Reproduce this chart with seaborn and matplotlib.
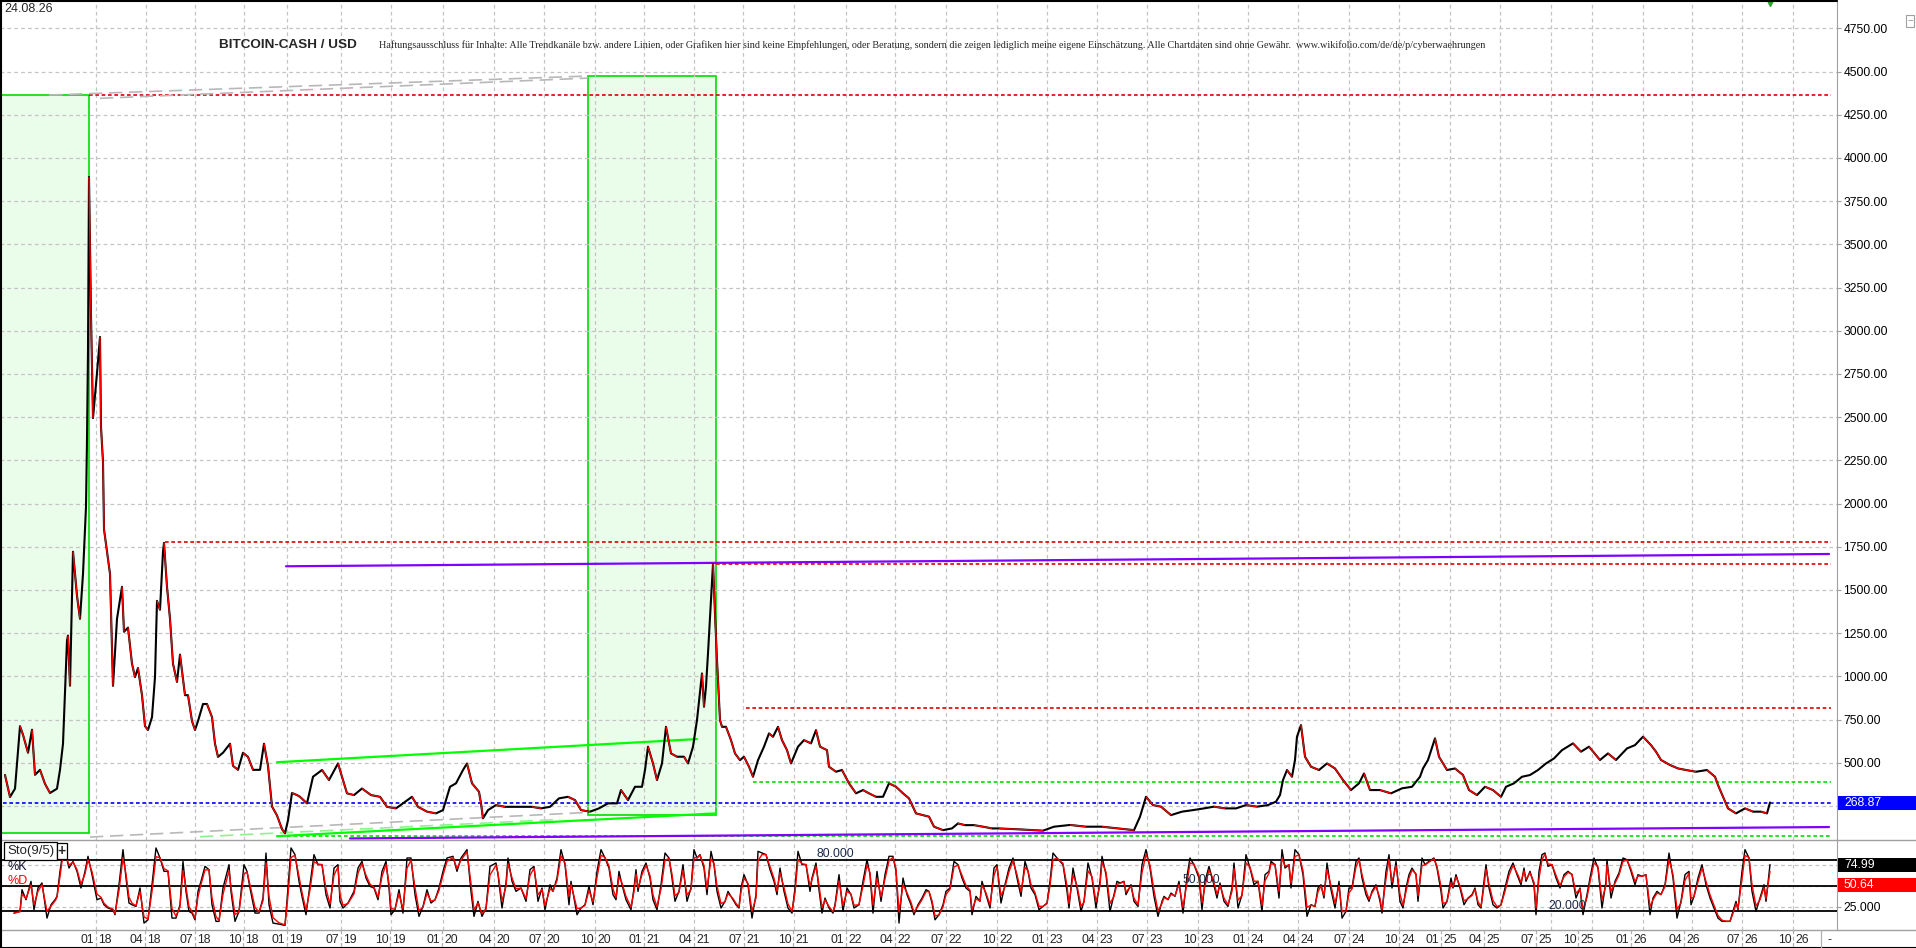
import numpy as np
import pandas as pd
import matplotlib
matplotlib.use("Agg")
import matplotlib.pyplot as plt
import seaborn as sns
from matplotlib.patches import Rectangle
from matplotlib.collections import LineCollection
from matplotlib.lines import Line2D
from matplotlib.transforms import IdentityTransform

# Kurs (Schlusswerte) je Balkenposition
price_bar = [5, 10, 15, 20, 23, 28, 32, 35, 40, 45, 50, 57, 60, 63, 67, 68, 70, 73, 77, 80,
             83, 86, 87, 88, 89, 91, 93, 97, 100, 101, 103, 104, 107, 110, 113, 117, 122, 124, 128, 132,
             135, 138, 142, 145, 148, 152, 155, 157, 160, 163, 164, 167, 170, 173, 177, 180, 185, 188, 192, 195,
             198, 203, 207, 212, 215, 218, 223, 230, 233, 238, 243, 248, 253, 260, 264, 268, 272, 277, 282, 285,
             288, 292, 297,
             300, 307, 313, 322, 329, 338, 342, 347, 354, 362, 371, 380, 387, 396, 405, 412, 418, 427, 436, 443,
             450, 456, 463, 467, 472, 479, 481, 483, 488, 496, 505, 514, 523, 532, 541, 550, 559, 568, 575, 581,
             590, 599, 608, 617, 621, 628, 635, 642, 645, 648, 653, 657, 662, 666, 671, 677, 684, 688, 693, 697,
             702, 704, 706, 708, 711, 713, 715, 717, 720, 722, 726, 731, 735, 740, 744, 749, 753, 758, 764, 769,
             773, 778, 782, 787, 791, 798, 804, 811, 816, 820, 827, 829, 836, 842, 849, 856, 863, 869, 876, 883,
             889, 896, 903, 909, 916, 923, 929, 934, 943, 952, 958, 965, 974, 983, 992, 999,
             1021, 1043, 1054, 1070, 1086, 1102, 1118, 1134, 1140, 1146, 1153, 1161, 1171, 1182, 1193, 1204,
             1214, 1225, 1236, 1246, 1257, 1268, 1276, 1280, 1283, 1287, 1292, 1295, 1297, 1301, 1305, 1311,
             1319, 1327, 1335, 1343, 1351, 1359, 1364, 1370, 1380, 1391, 1402, 1412, 1420, 1423, 1428, 1435,
             1439, 1447, 1455, 1463, 1469, 1477, 1485, 1493, 1501, 1506, 1514, 1522, 1530, 1538, 1546, 1554,
             1562, 1573, 1581, 1589, 1600, 1608, 1616, 1627, 1635, 1643, 1651, 1656, 1661, 1670, 1678, 1686,
             1696, 1707, 1715, 1718, 1723, 1728, 1736, 1745, 1753, 1761, 1767, 1770]
price_close = [429, 302, 350, 712, 662, 558, 691, 430, 459, 378, 325, 350, 459, 610, 1207, 1236, 946, 1721, 1466, 1333,
               1593, 1980, 2370, 2885, 3890, 3090, 2495, 2755, 2964, 2444, 2240, 1852, 1721, 1593, 945, 1333, 1518, 1258, 1282, 1073,
               996, 1048, 891, 712, 690, 764, 996, 1437, 1385, 1721, 1772, 1518, 1333, 1073, 968, 1126, 891, 891, 741, 690,
               741, 840, 840, 764, 610, 534, 558, 610, 482, 459, 558, 534, 459, 459, 610, 482, 247, 195, 116, 92,
               167, 325, 313,
               303, 265, 419, 458, 400, 496, 419, 323, 313, 351, 313, 303, 245, 236, 274, 303, 245, 217, 207, 226,
               361, 381, 458, 496, 381, 332, 265, 178, 226, 255, 245, 245, 245, 245, 236, 245, 294, 303, 284, 226,
               217, 236, 265, 265, 342, 284, 361, 361, 458, 593, 496, 400, 496, 708, 554, 535, 535, 496, 593, 747,
               1017, 824, 940, 1133, 1442, 1650, 1364, 1094, 747, 708, 708, 631, 554, 515, 535, 477, 419, 515, 593, 670,
               650, 708, 631, 573, 496, 593, 631, 612, 689, 593, 573, 477, 448, 458, 381, 323, 342, 323, 303, 303,
               381, 361, 323, 294, 207, 197, 188, 130, 110, 120, 149, 139, 139, 130, 120, 120,
               114, 107, 130, 140, 130, 130, 120, 110, 188, 303, 255, 246, 197, 217, 226, 236,
               246, 236, 236, 255, 246, 255, 275, 313, 400, 458, 419, 516, 651, 718, 535, 477,
               458, 496, 467, 400, 342, 381, 438, 342, 342, 323, 352, 361, 419, 467, 516, 641,
               535, 458, 467, 429, 342, 313, 361, 342, 303, 361, 381, 419, 429, 458, 496, 525,
               573, 612, 564, 593, 516, 554, 516, 583, 602, 651, 602, 564, 516, 487, 467, 458,
               448, 458, 419, 371, 303, 236, 207, 236, 217, 217, 207, 270]

# Stochastik %K
stoch_bar = [14, 20, 22, 26, 31, 34, 38, 42, 47, 51, 55, 57, 60, 62, 65, 69, 73, 77, 81, 85,
             88, 92, 97, 101, 104, 108, 113, 115, 119, 123, 126, 129, 132, 136, 140, 144, 148, 152, 156, 160,
             164, 168, 172, 176, 180, 183, 186, 189, 192, 195, 198, 201, 205, 209, 212, 216, 219, 223, 229, 231,
             235, 239, 244, 247, 250, 255, 259, 263, 266, 269, 273, 279, 285, 288, 291, 295, 299, 302, 306, 310,
             314, 318, 322, 326, 330, 334, 338, 340, 343, 348, 354, 358, 362, 366, 370, 374, 378, 382, 386, 389,
             391, 395, 399, 403, 407, 411, 415, 419, 423, 427, 431, 435, 439, 443, 447, 453, 457, 461, 467, 471,
             474, 478, 482, 486, 490, 496, 498, 502, 506, 508, 512, 516, 521, 526, 530, 534, 538, 542, 545, 550,
             553, 557, 561, 565, 569, 571, 577, 581, 585, 589, 593, 597, 601, 605, 609,
             613, 616, 619, 622, 626, 631, 634, 636, 638, 642, 646, 650, 653, 657, 661, 665, 669, 672, 675, 679,
             683, 687, 691, 694, 697, 700, 704, 707, 711, 714, 717, 721, 725, 728, 733, 736, 739, 741, 744, 748,
             752, 756, 758, 762, 766, 770, 774, 777, 780, 784, 788, 792, 795, 798, 802, 806, 810, 812, 816, 819,
             822, 825, 829, 833, 835, 839, 843, 847, 851, 854, 859, 863, 867, 870, 873, 877, 881, 885, 889, 893,
             896, 899, 903, 907, 911, 914, 918, 922, 926, 929, 932, 935, 939, 943, 946, 950, 954, 958, 962, 966,
             970, 972, 976, 980, 982, 986, 990, 994, 997, 1001, 1005, 1009, 1013, 1017, 1021, 1025, 1028, 1031, 1035, 1039,
             1043, 1047, 1050, 1053, 1057, 1063, 1067, 1069, 1073, 1077, 1081, 1084, 1088, 1092, 1096, 1100, 1102, 1106, 1110, 1114,
             1117, 1120, 1124, 1126, 1131, 1134, 1138, 1142, 1146, 1150, 1154, 1158, 1162, 1164, 1168, 1171, 1175, 1179, 1183, 1187,
             1190, 1194, 1199, 1202, 1205, 1209, 1213, 1217,
             1220, 1224, 1228, 1232, 1234, 1238, 1242, 1246, 1250, 1254, 1258, 1262, 1265, 1269, 1271, 1275, 1279, 1282, 1285, 1289,
             1291, 1295, 1299, 1303, 1307, 1311, 1315, 1318, 1321, 1324, 1327, 1331, 1335, 1339, 1342, 1346, 1349, 1352, 1356, 1359,
             1362, 1366, 1369, 1372, 1376, 1380, 1382, 1386, 1389, 1392, 1396, 1400, 1403, 1406, 1409, 1412, 1416, 1418, 1422, 1425,
             1429, 1434, 1437, 1441, 1443, 1447, 1451, 1453, 1456, 1460, 1464, 1468, 1472, 1475, 1478, 1481, 1484, 1486, 1489, 1493,
             1497, 1501, 1505, 1509, 1513, 1517, 1521, 1524, 1526, 1530, 1534, 1536, 1539, 1542, 1545, 1548, 1552, 1556, 1560, 1564,
             1568, 1572, 1576, 1580, 1583, 1587, 1590, 1594, 1598, 1602, 1606, 1607, 1611, 1615, 1619, 1623, 1627, 1631, 1635, 1638,
             1642, 1646, 1650, 1653, 1657, 1661, 1665, 1669, 1673, 1677, 1681, 1685, 1689, 1691, 1694, 1698, 1702, 1706, 1710, 1714,
             1718, 1722, 1726, 1730, 1733, 1736, 1738, 1742, 1745, 1749, 1752, 1756, 1760, 1764, 1766, 1770]
stoch_k = [17.5, 19.5, 45.2, 33.3, 55.1, 21.5, 47.2, 53.1, 11.6, 27.4, 33.3, 37.3, 66.9, 82.7, 90.6, 70.8, 78.7, 66.9, 47.2, 66.9,
           84.7, 63, 33.3, 35.3, 27.4, 23.5, 21.5, 15.6, 51.1, 92.6, 59, 29.4, 27.4, 25.4, 47.2, 5.7, 9.6, 51.1, 94.6, 82.7,
           66.9, 66.9, 11.6, 11.6, 27.4, 78.7, 43.2, 19.5, 17.5, 9.6, 43.2, 55.1, 72.8, 68.9, 27.4, 7.7, 7.7, 47.2, 74.8, 43.2,
           7.7, 19.5, 74.8, 66.9, 47.2, 17.5, 17.5, 35.3, 88.6, 27.4, 5.7, 4.5, 2.9, 47.2, 94.6, 86.7, 55.1, 37.3, 15.6, 51.1,
           86.7, 74.8, 74.8, 39.3, 23.5, 70.8, 74.8, 31.4, 23.5, 29.4, 43.2, 70.8, 78.7, 59, 49.1, 47.2, 33.3, 66.9, 78.7, 47.2,
           15.6, 21.5, 45.2, 17.5, 82.7, 82.7, 39.3, 13.6, 25.4, 45.2, 29.4, 33.3, 47.2, 66.9, 82.7, 84.7, 66.9, 82.7, 92.6, 43.2,
           13.6, 31.4, 13.6, 23.5, 72.8, 76.8, 63, 23.5, 53.1, 82.7, 55.1, 43.2, 47.2, 31.4, 68.9, 72.8, 31.4, 47.2, 21.5, 51.1,
           43.2, 59, 92.6, 74.8, 27.4, 55.1, 15.6, 23.5, 27.4, 49.1, 27.4, 66.9, 92.6, 82.7, 70.8,
           39.3, 33.3, 66.9, 51.1, 33.3, 21.5, 47.2, 68.9, 43.2, 66.9, 76.8, 59, 33.3, 21.5, 51.1, 88.6, 82.7, 59, 31.4, 43.2,
           74.8, 31.4, 47.2, 92.6, 82.7, 86.7, 70.8, 39.3, 90.6, 74.8, 43.2, 23.5, 31.4, 43.2, 33.3, 27.4, 23.5, 47.2, 63, 51.1,
           11.6, 39.3, 90.6, 88.6, 86.7, 68.9, 55.1, 39.3, 70.8, 43.2, 23.5, 17.5, 47.2, 90.6, 74.8, 74.8, 43.2, 59, 76.8, 45.2,
           17.5, 35.3, 23.5, 17.5, 27.4, 63, 19.5, 47.2, 39.3, 23.5, 27.4, 55.1, 80.7, 63, 17.5, 66.9, 31.4, 63, 84.7, 84.7,
           66.9, 5.7, 59, 39.3, 27.4, 15.6, 27.4, 35.3, 45.2, 43.2, 29.4, 9.6, 15.6, 27.4, 43.2, 47.2, 78.7, 74.8, 59, 47.2,
           43.2, 15.6, 37.3, 31.4, 55.1, 39.3, 23.5, 70.8, 74.8, 29.4, 51.1, 70.8, 82.7, 59, 37.3, 78.7, 66.9, 47.2, 39.3, 21.5,
           25.4, 29.4, 55.1, 88.6, 82.7, 74.8, 43.2, 23.5, 70.8, 47.2, 19.5, 31.4, 76.8, 59, 23.5, 55.1, 84.7, 63, 19.5, 39.3,
           55.1, 53.1, 55.1, 39.3, 51.1, 31.4, 25.4, 74.8, 92.6, 70.8, 37.3, 13.6, 31.4, 37.3, 33.3, 41.2, 37.3, 55.1, 17.5, 61,
           82.7, 74.8, 59, 21.5, 55.1, 72.8, 55.1, 35.3,
           53.1, 31.4, 25.4, 47.2, 76.8, 23.5, 39.3, 86.7, 70.8, 51.1, 55.1, 19.5, 63, 66.9, 78.7, 74.8, 35.3, 92.6, 70.8, 74.8,
           47.2, 92.6, 86.7, 63, 13.6, 27.4, 25.4, 47.2, 51.1, 35.3, 76.8, 45.2, 23.5, 55.1, 11.6, 19.5, 47.2, 47.2, 78.7, 82.7,
           59, 39.3, 31.4, 43.2, 51.1, 31.4, 17.5, 66.9, 86.7, 47.2, 78.7, 31.4, 23.5, 47.2, 63, 70.8, 63, 31.4, 82.7, 74.8,
           78.7, 82.7, 70.8, 43.2, 23.5, 31.4, 59, 47.2, 63, 47.2, 27.4, 35.3, 39.3, 47.2, 27.4, 23.5, 55.1, 74.8, 47.2, 27.4,
           23.5, 27.4, 47.2, 66.9, 76.8, 63, 51.1, 70.8, 55.1, 66.9, 51.1, 15.6, 66.9, 86.7, 88.6, 72.8, 74.8, 59, 47.2, 63,
           66.9, 63, 35.3, 47.2, 15.6, 39.3, 59, 82.7, 70.8, 23.5, 55.1, 80.7, 35.3, 55.1, 65, 82.7, 80.7, 66.9, 51.1, 63,
           61, 63, 15.6, 35.3, 43.2, 39.3, 51.1, 88.6, 59, 11.6, 31.4, 63, 66.9, 27.4, 37.3, 59, 74.8, 51.1, 35.3, 23.5,
           11.6, 7.7, 7.7, 7.7, 19.5, 31.4, 21.5, 66.9, 92.6, 82.7, 43.2, 19.5, 35.3, 51.1, 31.4, 74.99]

price_ticks = list(range(250, 5000, 250))
stoch_ticks = [25, 50, 75]
stoch_levels = [20, 50, 80]

grid_bar = [96, 146, 195, 244, 287, 341, 391, 443, 494, 544, 595, 644, 694, 743, 794, 846, 895, 946,
            997, 1047, 1097, 1147, 1198, 1248, 1298, 1349, 1399, 1450, 1500, 1551, 1592, 1643, 1692, 1742, 1793]
date_bar = [96, 145, 195, 243, 287, 341, 390, 442, 494, 544, 595, 644, 694, 744, 793, 846, 895, 946,
            997, 1047, 1097, 1147, 1198, 1248, 1298, 1349, 1399, 1441, 1484, 1536, 1578, 1631, 1684, 1742, 1793]
date_labels = ["01 18", "04 18", "07 18", "10 18", "01 19", "07 19", "10 19", "01 20", "04 20", "07 20",
               "10 20", "01 21", "04 21", "07 21", "10 21", "01 22", "04 22", "07 22", "10 22", "01 23",
               "04 23", "07 23", "10 23", "01 24", "04 24", "07 24", "10 24", "01 25", "04 25", "07 25",
               "10 25", "01 26", "04 26", "07 26", "10 26"]

# Zeichnungen im Chart
red_levels = [4364, 1780, 1650, 815]
red_start = [89, 165, 716, 746]
green_levels = [387, 76]
green_start = [753, 287]
last_price = 268.87
last_k, last_d = 74.99, 50.64
zones = [(0, 89, 93, 4364), (588, 716, 197, 4474)]
purple_lines = [((286, 1637), (1829, 1708)), ((350, 62), (1829, 128))]
channel_lines = [((277, 503), (697, 637)), ((277, 75), (716, 207))]
grey_lines = [((49, 4364), (588, 4474)), ((100, 4345), (588, 4462)), ((90, 70), (586, 212))]
light_green_lines = [((200, 72), (560, 172))]

title = "BITCOIN-CASH / USD"
disclaimer = ("Haftungsausschluss für Inhalte: Alle Trendkanäle bzw. andere Linien, oder Grafiken hier sind keine "
              "Empfehlungen, oder Beratung, sondern die zeigen lediglich meine eigene Einschätzung. Alle Chartdaten "
              "sind ohne Gewähr.  www.wikifolio.com/de/de/p/cyberwaehrungen")
date_text = "24.08.26"

# Layout (Pixel)
W, H = 1916, 948
X_AXIS = 1837
P_BOT, S_BOT = 840, 930
LINE_END = 1831


def fx(px):
    return px / W


def fy(py):
    return 1 - py / H


sns.set_style("white")
plt.rcParams['font.family'] = ['Liberation Sans', 'DejaVu Sans']
plt.rcParams['font.size'] = 8.7

fig = plt.figure(figsize=(W / 100, H / 100), dpi=100)
ax = fig.add_axes([0, fy(P_BOT), fx(X_AXIS), P_BOT / H])
ax2 = fig.add_axes([0, fy(S_BOT), fx(X_AXIS), (S_BOT - P_BOT) / H])

price_df = pd.DataFrame({'bar': price_bar, 'close': price_close})
stoch_df = pd.DataFrame({'bar': stoch_bar, 'k': stoch_k})
stoch_df['d'] = stoch_df['k'].ewm(alpha=0.8).mean()

# Kurslinie: schwarz, fallende Abschnitte rot
sns.lineplot(data=price_df, x='bar', y='close', ax=ax, color='black', linewidth=1.5,
             estimator=None, sort=False, zorder=4)
xs = price_df['bar'].to_numpy()
ys = price_df['close'].to_numpy()
down = np.where(ys[1:] < ys[:-1])[0]
segs = [[(xs[i], ys[i]), (xs[i + 1], ys[i + 1])] for i in down]
ax.add_collection(LineCollection(segs, colors='#ff0000', linewidths=1.0, zorder=5))

# Zonen und Linien
for x0, x1, y0, y1 in zones:
    ax.add_patch(Rectangle((x0, y0), x1 - x0, y1 - y0, facecolor='#eafcea', edgecolor='#00dd00',
                           linewidth=1.2, zorder=0.3))
ax.hlines(red_levels, red_start, LINE_END, colors='#e00000', linestyles=(0, (2.2, 1.6)), linewidth=1.2, zorder=3)
ax.hlines(green_levels, green_start, LINE_END, colors='#00e000', linestyles=(0, (2.2, 1.6)), linewidth=1.2, zorder=3)
ax.hlines([last_price], 3, LINE_END, colors='#0000ff', linestyles=(0, (2.2, 1.6)), linewidth=1.2, zorder=3)
for (x0, y0), (x1, y1) in purple_lines:
    ax.plot([x0, x1], [y0, y1], color='#8000ff', linewidth=1.6, zorder=3)
for (x0, y0), (x1, y1) in channel_lines:
    ax.plot([x0, x1], [y0, y1], color='#00ff00', linewidth=1.6, zorder=3)
for (x0, y0), (x1, y1) in grey_lines:
    ax.plot([x0, x1], [y0, y1], color='#b8b8b8', linewidth=1.2, linestyle=(0, (8, 4)), zorder=3)
for (x0, y0), (x1, y1) in light_green_lines:
    ax.plot([x0, x1], [y0, y1], color='#90f090', linewidth=1.2, linestyle=(0, (8, 4)), zorder=3)
ax.plot([1770], [4900], marker='v', color='#22aa22', markersize=6, clip_on=False, zorder=6)

# Stochastik
sns.lineplot(data=stoch_df, x='bar', y='k', ax=ax2, color='black', linewidth=1.0,
             estimator=None, sort=False, zorder=4)
sns.lineplot(data=stoch_df, x='bar', y='d', ax=ax2, color='#ff0000', linewidth=1.0,
             estimator=None, sort=False, zorder=5)
for lv in stoch_levels:
    ax2.axhline(lv, color='black', linewidth=1.3, zorder=3)

grid_kw = dict(color='#c4c4c4', linestyle=(0, (3, 2.5)), linewidth=0.9)
for a in (ax, ax2):
    a.set_xlim(0, X_AXIS)
    a.set_xticks(grid_bar)
    a.tick_params(axis='x', length=0, labelbottom=False)
    a.yaxis.tick_right()
    a.tick_params(axis='y', right=True, left=False, length=3, width=0.8, color='#a0a0a0',
                  labelsize=8.7, pad=1.5, labelcolor='black')
    a.grid(True, **grid_kw)
    a.set_axisbelow(True)
    a.set_xlabel('')
    a.set_ylabel('')
    for s in ('top', 'bottom'):
        a.spines[s].set_visible(False)
    a.spines['right'].set_color('#a0a0a0')
    a.spines['left'].set_color('black')
    a.spines['left'].set_linewidth(1.5)
    a.set_facecolor('white')

# Beschriftungen, die unter den Wertboxen liegen, bleiben leer
ax.set_ylim(53, 4914)
ax.set_yticks(price_ticks)
ax.set_yticklabels(["" if abs(v - last_price) < 60 else f"{v:.2f}" for v in price_ticks])
ax2.set_ylim(-2.5, 104)
ax2.set_yticks(stoch_ticks)
ax2.set_yticklabels(["" if min(abs(v - last_k), abs(v - last_d)) < 5 else f"{v:.3f}" for v in stoch_ticks])

lab_col = '#1a2a48'
ax2.text(835, 87.5, "80.000", ha='center', va='center', color=lab_col, fontsize=8.7, zorder=6)
ax2.text(1201, 56.7, "50.000", ha='center', va='center', color=lab_col, fontsize=8.7, zorder=6)
ax2.text(1567, 26, "20.000", ha='center', va='center', color=lab_col, fontsize=8.7, zorder=6)

# Rahmen und Trennlinien
ident = IdentityTransform()
fig.add_artist(Line2D([0, 1], [fy(P_BOT), fy(P_BOT)], color='#a0a0a0', linewidth=1.0))
fig.add_artist(Line2D([0, 1], [fy(S_BOT), fy(S_BOT)], color='#a0a0a0', linewidth=1.0))
fig.add_artist(Line2D([0, fx(X_AXIS)], [fy(0.5), fy(0.5)], color='black', linewidth=1.5))
fig.add_artist(Line2D([0, 1], [fy(947.5), fy(947.5)], color='black', linewidth=1.5))
fig.add_artist(Line2D([fx(0.7), fx(0.7)], [0, 1], color='black', linewidth=1.5))

# Datumsleiste
for b, lab in zip(date_bar, date_labels):
    m, yr = lab.split()
    fig.add_artist(Line2D([fx(b), fx(b)], [fy(S_BOT), fy(H)], color='#b0b0b0', linewidth=0.9,
                          linestyle=(0, (3, 2))))
    fig.text(fx(b - 1.5), fy(940), m, ha='right', va='center', fontsize=8.7)
    fig.text(fx(b + 2), fy(940), yr, ha='left', va='center', fontsize=8.7)
fig.add_artist(Line2D([fx(1821), fx(1821)], [fy(S_BOT), fy(H)], color='#b0b0b0', linewidth=0.9))
fig.text(fx(1830), fy(940), "-", ha='center', va='center', fontsize=8.7)

# Wertboxen an der rechten Achse


def value_box(a, v, text, fc):
    y = a.transData.transform((0, v))[1]
    fig.add_artist(Rectangle((X_AXIS + 1, y - 7), W - X_AXIS - 1, 14, transform=ident,
                             facecolor=fc, edgecolor='none', zorder=5))
    fig.text(X_AXIS + 7, y, text, transform=ident, ha='left', va='center', color='white',
             fontsize=8.7, zorder=6)


value_box(ax, last_price, f"{last_price:.2f}", '#0000ff')
value_box(ax2, last_k, f"{last_k:.2f}", '#000000')
value_box(ax2, last_d, f"{last_d:.2f}", '#ff0000')

# Texte
fig.text(fx(4), fy(9), date_text, ha='left', va='center', fontsize=9)
fig.text(fx(288), fy(45), title, ha='center', va='center', fontsize=9.7, fontweight='bold')
t = fig.text(fx(379), fy(45), disclaimer, ha='left', va='center', fontsize=8,
             family=['Liberation Serif', 'DejaVu Serif'])
r = fig.canvas.get_renderer()
t.set_fontsize(8 * 1104 / t.get_window_extent(r).width)

fig.text(fx(7), fy(851), "Sto(9/5)", ha='left', va='center', fontsize=9.5,
         bbox=dict(boxstyle='square,pad=0.2', facecolor='white', edgecolor='black', linewidth=0.9))
fig.text(fx(62), fy(851), "+", ha='center', va='center', fontsize=10, fontweight='bold',
         bbox=dict(boxstyle='square,pad=0.08', facecolor='white', edgecolor='black', linewidth=0.9))
fig.text(fx(8), fy(867), "%K", ha='left', va='center', fontsize=9, color='#10102a')
fig.text(fx(8), fy(881), "%D", ha='left', va='center', fontsize=9, color='#ff0000')
fig.text(fx(1910), fy(21), "−", ha='center', va='center', fontsize=7, color='#909090',
         bbox=dict(boxstyle='square,pad=0.1', facecolor='white', edgecolor='#a0a0a0', linewidth=0.8))

fig.savefig("out.png", dpi=100)
